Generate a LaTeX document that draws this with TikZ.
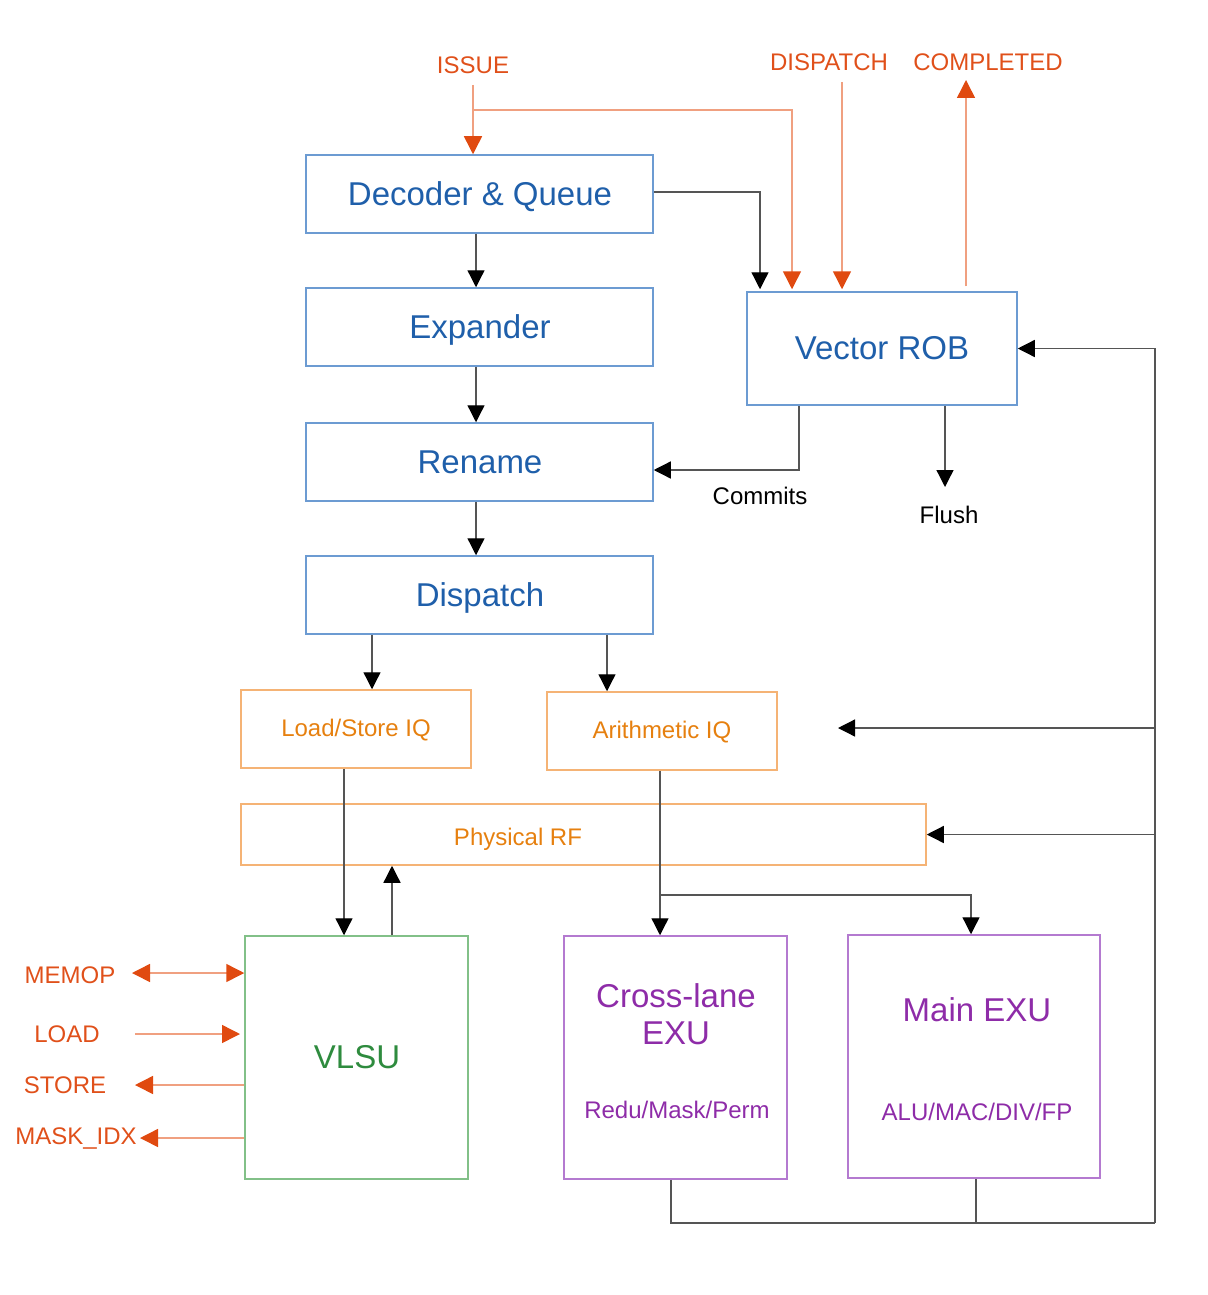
\documentclass[tikz,border=0pt]{standalone}
\usepackage{fontspec}
\setmainfont{Liberation Sans}
\usetikzlibrary{arrows.meta,fit,calc}
\definecolor{bluebd}{HTML}{6C9BD2}
\definecolor{bluetx}{HTML}{1F5FAA}
\definecolor{redtx}{HTML}{E0501A}
\definecolor{redln}{HTML}{F0A080}
\definecolor{redhd}{HTML}{E04A10}
\definecolor{orbd}{HTML}{F5B375}
\definecolor{ortx}{HTML}{E6800F}
\definecolor{grbd}{HTML}{82C088}
\definecolor{grtx}{HTML}{2E8B3E}
\definecolor{pubd}{HTML}{B47AD0}
\definecolor{putx}{HTML}{8E2CA8}
\definecolor{gln}{HTML}{555555}
\begin{document}
\begin{tikzpicture}[x=0.5pt,y=-0.5pt, line width=0.65pt,
  box/.style={draw, rectangle, inner sep=0pt, line width=0.75pt},
  bigfont/.style={font=\fontsize{16.5}{18.5}\selectfont},
  smallfont/.style={font=\fontsize{12}{14}\selectfont},
  bluebox/.style={box, draw=bluebd},
  orbox/.style={box, draw=orbd},
  grbox/.style={box, draw=grbd},
  pubox/.style={box, draw=pubd},
  bluetxt/.style={text=bluetx, bigfont, inner sep=0pt},
  ortxt/.style={text=ortx, smallfont, inner sep=0pt},
  grtxt/.style={text=grtx, bigfont, inner sep=0pt},
  pubig/.style={text=putx, bigfont, align=center, inner sep=0pt},
  pusmall/.style={text=putx, smallfont, inner sep=0pt},
  redtxt/.style={text=redtx, smallfont, inner sep=0pt},
  blktxt/.style={text=black, smallfont, inner sep=0pt},
  gline/.style={draw=gln, line width=0.65pt},
  blkarr/.style={gline, -{Triangle[length=8.5pt,width=8.5pt,color=black]}},
  rline/.style={draw=redln, line width=0.75pt},
  redarr/.style={rline, -{Triangle[length=9pt,width=9pt,color=redhd]}},
  reddbl/.style={rline, {Triangle[length=9pt,width=9pt,color=redhd]}-{Triangle[length=9pt,width=9pt,color=redhd]}}
]
\useasboundingbox (0,0) rectangle (1208,1295);

% boxes
\node[bluebox, fit={(306,155)(653,233)}] (dec) {};
\node[bluebox, fit={(306,288)(653,366)}] (exp) {};
\node[bluebox, fit={(306,423)(653,501)}] (ren) {};
\node[bluebox, fit={(306,556)(653,634)}] (dis) {};
\node[bluebox, fit={(747,292)(1017,405)}] (rob) {};
\node[orbox, fit={(241,690)(471,768)}] (lsiq) {};
\node[orbox, fit={(547,692)(777,770)}] (ariq) {};
\node[orbox, fit={(241,804)(926,865)}] (prf) {};
\node[grbox, fit={(245,936)(468,1179)}] (vlsu) {};
\node[pubox, fit={(564,936)(787,1179)}] (cx) {};
\node[pubox, fit={(848,935)(1100,1178)}] (mx) {};

% box texts
\node[bluetxt] (dect) at (480,197) {Decoder \& Queue};
\node[bluetxt] (expt) at (480,330) {Expander};
\node[bluetxt] (rent) at (480,462) {Rename};
\node[bluetxt] (dist) at (480,598) {Dispatch};
\node[bluetxt] (robt) at (882,348) {Vector ROB};
\node[ortxt] (lsiqt) at (356,730) {Load/Store IQ};
\node[ortxt] (ariqt) at (662,732) {Arithmetic IQ};
\node[ortxt] (prft) at (518,839) {Physical RF};
\node[grtxt] (vlsut) at (357,1057) {VLSU};
\node[pubig] (cxt) at (676,1014) {Cross-lane\\EXU};
\node[pusmall] (cxs) at (677,1110) {Redu/Mask/Perm};
\node[pubig] (mxt) at (977,1010) {Main EXU};
\node[pusmall] (mxs) at (977,1112) {ALU/MAC/DIV/FP};

% labels
\node[redtxt] (issue) at (473,65) {ISSUE};
\node[redtxt] (dspt) at (829,62) {DISPATCH};
\node[redtxt] (comp) at (988,62) {COMPLETED};
\node[blktxt] (commits) at (760,496) {Commits};
\node[blktxt] (flush) at (949,515) {Flush};
\node[redtxt] (memop) at (70,975) {MEMOP};
\node[redtxt] (load) at (67,1034) {LOAD};
\node[redtxt] (store) at (65,1085) {STORE};
\node[redtxt] (mask) at (76,1138) {MASK\_IDX};

% helper coordinates
\coordinate (iss0) at (473,85);
\coordinate (isbr) at (473,110);
\coordinate (c792) at (792,0);
\coordinate (dsp0) at (842,82);
\coordinate (cmp0) at (966,80);
\coordinate (c760) at (760,0);
\coordinate (r192) at (0,192);
\coordinate (c476) at (476,0);
\coordinate (c799) at (799,0);
\coordinate (r470) at (0,470);
\coordinate (fl0) at (945,487);
\coordinate (c372) at (372,0);
\coordinate (c607) at (607,0);
\coordinate (c344) at (344,0);
\coordinate (c392) at (392,0);
\coordinate (c660) at (660,0);
\coordinate (br895) at (660,895);
\coordinate (c971) at (971,0);
\coordinate (c671) at (671,0);
\coordinate (c976) at (976,0);
\coordinate (bot) at (1155,1223);
\coordinate (aiqin) at (838,728);
\coordinate (mem0) at (132,973);
\coordinate (ld0) at (135,1034);
\coordinate (ld1) at (240,1034);
\coordinate (st0) at (135,1085);
\coordinate (mk0) at (140,1138);

% red signals at top
\draw[redarr] (iss0) -- (iss0 |- dec.north);
\draw[redarr] (isbr) -| ([yshift=1pt]c792 |- rob.north);
\draw[redarr] (dsp0) -- ([yshift=1pt]dsp0 |- rob.north);
\draw[redarr] ([yshift=2.5pt]cmp0 |- rob.north) -- (cmp0);

% black connectors
\draw[blkarr] (dec.east |- r192) -| ([yshift=1pt]c760 |- rob.north);
\draw[blkarr] (dec.south -| c476) -- (exp.north -| c476);
\draw[blkarr] (exp.south -| c476) -- (ren.north -| c476);
\draw[blkarr] (ren.south -| c476) -- (dis.north -| c476);
\draw[blkarr] (rob.south -| c799) -- (c799 |- r470) -- (ren.east |- r470);
\draw[blkarr] (rob.south -| fl0) -- (fl0);
\draw[blkarr] (dis.south -| c372) -- (lsiq.north -| c372);
\draw[blkarr] (dis.south -| c607) -- (ariq.north -| c607);
\draw[blkarr] (lsiq.south -| c344) -- (vlsu.north -| c344);
\draw[blkarr] (vlsu.north -| c392) -- (prf.south -| c392);
\draw[blkarr] (ariq.south -| c660) -- (cx.north -| c660);
\draw[blkarr] (br895) -| (c971 |- mx.north);

% feedback
\draw[gline] (cx.south -| c671) |- (bot);
\draw[gline] (mx.south -| c976) -- (c976 |- bot);
\draw[blkarr] (bot) -- (bot |- rob.east) -- (rob.east);
\draw[blkarr] (bot |- aiqin) -- (aiqin);
\draw[blkarr] (bot |- prf.east) -- (prf.east);

% left memory signals
\draw[reddbl] (mem0) -- (mem0 -| vlsu.west);
\draw[redarr] (ld0) -- (ld1);
\draw[redarr] (st0 -| vlsu.west) -- (st0);
\draw[redarr] (mk0 -| vlsu.west) -- (mk0);
\end{tikzpicture}
\end{document}
